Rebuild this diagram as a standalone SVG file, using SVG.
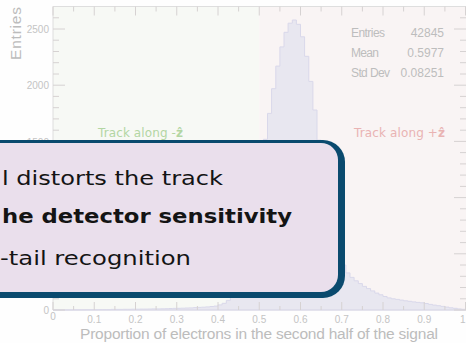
<svg xmlns="http://www.w3.org/2000/svg" width="466" height="343" viewBox="0 0 466 343">
  <style>
    .lbl { font-family: "Liberation Sans", Arial, sans-serif; fill: #c4c4c4; }
    .tick { font-size: 10px; }
    .ttl { font-size: 15.5px; fill: #bcbcbc; }
    .stat { font-size: 12px; fill: #bdbdbd; }
    .region { font-family: "DejaVu Sans", sans-serif; font-size: 12px; }
    .ticks { stroke: #d6d2d2; stroke-width: 1; fill: none; }
    .box-text { font-family: "DejaVu Sans", sans-serif; font-size: 20px; fill: #141414; }
  </style>

  <rect x="0" y="0" width="466" height="343" fill="#fefefe"/>

  <!-- plot area: the two halves of the x range -->
  <g id="plot-frame">
    <rect x="53" y="6.5" width="206.25" height="303.5" fill="#f7f9f5"/>
    <rect x="259.25" y="6.5" width="206.75" height="303.5" fill="#f9f4f4"/>
  </g>

  <!-- histogram of the electron proportion -->
  <g id="histogram">
    <path fill="#e8e7f0" stroke="#d9d8ea" stroke-width="1" d="M53,310 H57.1 H61.3 V309.9 H65.4 H69.5 H73.6 V309.8 H77.8 H81.9 H86 V309.7 H90.1 H94.3 H98.4 V309.6 H102.5 H106.6 H110.8 V309.4 H114.9 H119 H123.1 V309.3 H127.3 H131.4 V309.2 H135.5 H139.6 V309.1 H143.8 H147.9 V309 H152 V308.9 H156.1 H160.3 V308.8 H164.4 V308.7 H168.5 V308.5 H172.6 V308.4 H176.8 V308.3 H180.9 V308.2 H185 V308 H189.1 V307.9 H193.3 V307.6 H197.4 V307.4 H201.5 V307.2 H205.6 V306.9 H209.8 V306.5 H213.9 V306.1 H218 V304.9 H222.1 V303.3 H226.3 V300.4 H230.4 V296 H234.5 V288.6 H238.6 V276.3 H242.8 V257.2 H246.9 V232.4 H251 V208.8 H255.1 V188.6 H259.3 V164.8 H263.4 V139.3 H267.5 V113.4 H271.6 V88.7 H275.8 V66.1 H279.9 V46.9 H284 V32.3 H288.1 V23.2 H292.3 V20 H296.4 V24.3 H300.5 V36.8 H304.6 V56.3 H308.8 V81.4 H312.9 V110 H317 V140.2 H321.1 V170.1 H325.3 V197.6 H329.4 V220.1 H333.5 V240.3 H337.6 V256 H341.8 V265 H345.9 V272.9 H350 V277.4 H354.1 V280.8 H358.3 V283.6 H362.4 V286.4 H366.5 V288.6 H370.6 V290.9 H374.8 V293.1 H378.9 V294.8 H383 V296.5 H387.1 V297.9 H391.3 V298.8 H395.4 V299.4 H399.5 V300.1 H403.6 V300.8 H407.8 V301.3 H411.9 V301.9 H416 V302.4 H420.1 V302.8 H424.3 V303.5 H428.4 V304.4 H432.5 V305.1 H436.6 V305.7 H440.8 V306.4 H444.9 V307.1 H449 V307.8 H453.1 V308.3 H457.3 V308.9 H461.4 V309.3 H465.5 V310 Z"/>
  </g>

  <!-- axes and tick marks -->
  <g id="axes">
    <path d="M53,310 V6.5 H466" stroke="#dedede" stroke-width="1" fill="none"/>
    <path d="M53,310 H466" stroke="#dcdbe6" stroke-width="1" fill="none"/>
    <path class="ticks" d="M53,6.5 v9 M73.6,6.5 v5 M94.25,6.5 v9 M114.9,6.5 v5 M135.5,6.5 v9 M156.1,6.5 v5 M176.75,6.5 v9 M197.4,6.5 v5 M218,6.5 v9 M238.6,6.5 v5 M259.25,6.5 v9 M279.9,6.5 v5 M300.5,6.5 v9 M321.1,6.5 v5 M341.75,6.5 v9 M362.4,6.5 v5 M383,6.5 v9 M403.6,6.5 v5 M424.25,6.5 v9 M444.9,6.5 v5 M465.5,6.5 v9"/>
    <path class="ticks" d="M53,310 v-8 M73.6,310 v-4 M94.25,310 v-8 M114.9,310 v-4 M135.5,310 v-8 M156.1,310 v-4 M176.75,310 v-8 M197.4,310 v-4 M218,310 v-8 M238.6,310 v-4 M259.25,310 v-8 M279.9,310 v-4 M300.5,310 v-8 M321.1,310 v-4 M341.75,310 v-8 M362.4,310 v-4 M383,310 v-8 M403.6,310 v-4 M424.25,310 v-8 M444.9,310 v-4 M465.5,310 v-8"/>
    <path class="ticks" d="M53,310 h12 M53,298.8 h6 M53,287.5 h6 M53,276.3 h6 M53,265 h6 M53,253.8 h12 M53,242.6 h6 M53,231.3 h6 M53,220.1 h6 M53,208.8 h6 M53,197.6 h12 M53,186.4 h6 M53,175.1 h6 M53,163.9 h6 M53,152.6 h6 M53,141.4 h12 M53,130.2 h6 M53,118.9 h6 M53,107.7 h6 M53,96.4 h6 M53,85.2 h12 M53,74 h6 M53,62.7 h6 M53,51.5 h6 M53,40.2 h6 M53,29 h12 M53,17.8 h6"/>
    <path class="ticks" d="M466,310 h-12 M466,298.8 h-6 M466,287.5 h-6 M466,276.3 h-6 M466,265 h-6 M466,253.8 h-12 M466,242.6 h-6 M466,231.3 h-6 M466,220.1 h-6 M466,208.8 h-6 M466,197.6 h-12 M466,186.4 h-6 M466,175.1 h-6 M466,163.9 h-6 M466,152.6 h-6 M466,141.4 h-12 M466,130.2 h-6 M466,118.9 h-6 M466,107.7 h-6 M466,96.4 h-6 M466,85.2 h-12 M466,74 h-6 M466,62.7 h-6 M466,51.5 h-6 M466,40.2 h-6 M466,29 h-12 M466,17.8 h-6"/>

    <g class="lbl tick" text-anchor="end">
      <text x="49" y="33">2500</text>
      <text x="49" y="89">2000</text>
      <text x="49" y="145.5">1500</text>
      <text x="49" y="314">0</text>
    </g>
    <g class="lbl tick" text-anchor="middle">
      <text x="53" y="320">0</text>
      <text x="94.25" y="323">0.1</text>
      <text x="135.5" y="323">0.2</text>
      <text x="176.75" y="323">0.3</text>
      <text x="218" y="323">0.4</text>
      <text x="259.25" y="323">0.5</text>
      <text x="300.5" y="323">0.6</text>
      <text x="341.75" y="323">0.7</text>
      <text x="383" y="323">0.8</text>
      <text x="424.25" y="323">0.9</text>
      <text x="465.5" y="323" text-anchor="end">1</text>
    </g>
    <text class="lbl ttl" x="80" y="339" textLength="358">Proportion of electrons in the second half of the signal</text>
    <text class="lbl ttl" transform="translate(21,7) rotate(-90)" text-anchor="end" font-size="16" textLength="53">Entries</text>
  </g>

  <!-- statistics panel -->
  <g id="stats" class="lbl stat">
    <text x="351" y="36.7" textLength="34">Entries</text>
    <text x="444" y="36.7" text-anchor="end">42845</text>
    <text x="351" y="57.3" textLength="28">Mean</text>
    <text x="444" y="57.3" text-anchor="end">0.5977</text>
    <text x="351" y="77.3" textLength="39">Std Dev</text>
    <text x="444" y="77.3" text-anchor="end">0.08251</text>
  </g>

  <!-- region captions -->
  <g id="region-labels" class="region">
    <text x="98" y="137" fill="#b3d6a3" textLength="85">Track along -<tspan font-weight="bold">ẑ</tspan></text>
    <text x="354" y="137" fill="#e9b3b3" textLength="91">Track along +<tspan font-weight="bold">ẑ</tspan></text>
  </g>

  <!-- callout block -->
  <g id="callout">
    <rect x="-30" y="140" width="375" height="158" rx="22" ry="22" fill="#0a4a6e"/>
    <rect x="-30" y="143" width="368" height="149" rx="17" ry="17" fill="#eadfec"/>
    <text class="box-text" x="2" y="185" textLength="221" lengthAdjust="spacingAndGlyphs">l distorts the track</text>
    <text class="box-text" x="2" y="223" font-weight="bold" textLength="290" lengthAdjust="spacingAndGlyphs">he detector sensitivity</text>
    <text class="box-text" x="0" y="265" textLength="191" lengthAdjust="spacingAndGlyphs">-tail recognition</text>
  </g>
</svg>
